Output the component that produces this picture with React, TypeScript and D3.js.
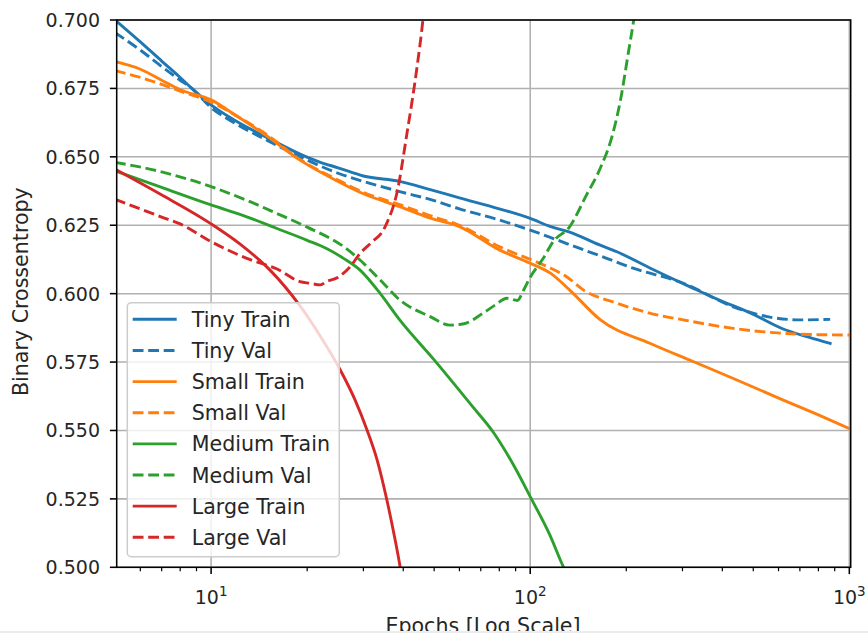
import React from "react";
import * as d3 from "d3";

const tinyTrainEpochs = [5, 6, 7, 8, 8.7, 10, 12, 15, 19, 22, 25, 30, 39, 48.6, 60, 80, 100, 116, 133, 165, 187, 238, 317, 385, 489, 623, 750, 871];
const tinyTrainLoss = [0.700, 0.692, 0.685, 0.679, 0.675, 0.669, 0.663, 0.657, 0.651, 0.648, 0.646, 0.643, 0.641, 0.638, 0.635, 0.631, 0.6275, 0.6245, 0.6225, 0.6178, 0.6153, 0.6093, 0.6025, 0.598, 0.593, 0.587, 0.584, 0.5818];

const tinyValEpochs = [5, 6, 7, 8, 8.7, 10, 12, 15, 19, 25, 30, 39, 50, 60, 80, 100, 116, 147, 166, 210, 302, 433, 553, 703, 871];
const tinyValLoss = [0.6954, 0.689, 0.683, 0.678, 0.675, 0.668, 0.662, 0.656, 0.650, 0.644, 0.641, 0.6373, 0.634, 0.631, 0.6269, 0.6232, 0.6205, 0.616, 0.6138, 0.6093, 0.6038, 0.5952, 0.5916, 0.5904, 0.5906];

const smallTrainEpochs = [5, 6, 7, 8, 10, 12, 15, 19, 25, 30, 39, 49, 60, 80, 100, 116, 133, 166, 238, 324, 433, 621, 800, 1010];
const smallTrainLoss = [0.6848, 0.682, 0.678, 0.6745, 0.6708, 0.665, 0.6575, 0.6488, 0.641, 0.6365, 0.6318, 0.6275, 0.6245, 0.616, 0.6111, 0.6074, 0.6013, 0.5904, 0.5818, 0.5752, 0.569, 0.5611, 0.5557, 0.5505];

const smallValEpochs = [5, 6, 7, 8, 10, 12, 15, 19, 25, 30, 39, 50, 60, 80, 107, 116, 130, 147, 187, 238, 302, 433, 621, 800, 1010];
const smallValLoss = [0.6815, 0.679, 0.6765, 0.674, 0.670, 0.665, 0.658, 0.649, 0.6415, 0.637, 0.6325, 0.628, 0.625, 0.6172, 0.6111, 0.6093, 0.6062, 0.6013, 0.5965, 0.5928, 0.5904, 0.5873, 0.5855, 0.585, 0.5849];

const mediumTrainEpochs = [5, 7, 10, 13, 16, 20, 23, 26, 29.3, 33.9, 39, 50, 66, 77, 90, 100, 115, 127, 131];
const mediumTrainLoss = [0.6449, 0.6388, 0.6324, 0.628, 0.6239, 0.6195, 0.6165, 0.6129, 0.6086, 0.600, 0.5904, 0.5758, 0.5587, 0.549, 0.536, 0.5258, 0.512, 0.5002, 0.497];

const mediumValEpochs = [5, 7, 10, 13, 16, 20, 26, 28.5, 34, 39, 48.6, 56, 62, 71, 78, 84.5, 91, 96, 100, 110, 118, 133, 150, 166, 180, 192, 203, 211, 218];
const mediumValLoss = [0.648, 0.6445, 0.6391, 0.634, 0.6294, 0.6243, 0.6172, 0.6135, 0.6048, 0.5977, 0.5916, 0.5885, 0.589, 0.5928, 0.596, 0.5983, 0.5975, 0.602, 0.606, 0.613, 0.619, 0.6245, 0.636, 0.646, 0.657, 0.671, 0.688, 0.700, 0.712];

const largeTrainEpochs = [5, 6.92, 10, 12.33, 15.3, 19, 21.97, 25.4, 28.27, 30.8, 33.14, 35.55, 37.2, 39.1, 40.3];
const largeTrainLoss = [0.6455, 0.6364, 0.6255, 0.6181, 0.6086, 0.5955, 0.5845, 0.5721, 0.5611, 0.5502, 0.5392, 0.5246, 0.5136, 0.5002, 0.49];

const largeValEpochs = [5, 7, 8, 10, 13, 16.1, 19, 20.4, 22, 23, 25, 27.3, 29.3, 32, 34.7, 35.5, 38.2, 41.1, 44.2, 46.1, 47];
const largeValLoss = [0.6345, 0.628, 0.6255, 0.619, 0.6128, 0.609, 0.6044, 0.6038, 0.6032, 0.6044, 0.606, 0.6099, 0.6147, 0.619, 0.6233, 0.6257, 0.6367, 0.6586, 0.6829, 0.700, 0.71];

const seriesLabels = ["Tiny Train", "Tiny Val", "Small Train", "Small Val", "Medium Train", "Medium Val", "Large Train", "Large Val"];
const yTickValues = [0.5, 0.525, 0.55, 0.575, 0.6, 0.625, 0.65, 0.675, 0.7];
const xMajorTicks = [10, 100, 1000];
const xTickExponents = ["1", "2", "3"];

const BLUE = "#1f77b4";
const ORANGE = "#ff7f0e";
const GREEN = "#2ca02c";
const RED = "#d62728";

const FONT = "DejaVu Sans, sans-serif";
const FS = 19;
const FS_LABEL = 20.6;

const L = 116.7, R = 850.7, T = 20, B = 567.3;

export default function App() {
  const x = d3.scaleLog().domain([5.06, 1010]).range([L, R]);
  const y = d3.scaleLinear().domain([0.5, 0.7]).range([B, T]);

  const series = [
    { e: tinyTrainEpochs, v: tinyTrainLoss, color: BLUE, dash: false },
    { e: tinyValEpochs, v: tinyValLoss, color: BLUE, dash: true },
    { e: smallTrainEpochs, v: smallTrainLoss, color: ORANGE, dash: false },
    { e: smallValEpochs, v: smallValLoss, color: ORANGE, dash: true },
    { e: mediumTrainEpochs, v: mediumTrainLoss, color: GREEN, dash: false },
    { e: mediumValEpochs, v: mediumValLoss, color: GREEN, dash: true },
    { e: largeTrainEpochs, v: largeTrainLoss, color: RED, dash: false },
    { e: largeValEpochs, v: largeValLoss, color: RED, dash: true },
  ];

  const line = d3
    .line<[number, number]>()
    .x((d) => x(d[0]))
    .y((d) => y(d[1]))
    .curve(d3.curveMonotoneX);

  const minorTicks: number[] = [];
  [1, 10, 100].forEach((base) => {
    for (let k = 2; k <= 9; k++) {
      const v = base * k;
      if (v >= 5.06 && v <= 1010) minorTicks.push(v);
    }
  });

  const LW = 2.9;
  const dashArr = "10.8,4.7";
  const legX = 127.3, legY = 302.7, legW = 212, legH = 254;
  const rowY0 = 319.3, rowStep = 31.14;

  return (
    <svg
      width={868}
      height={633}
      style={{ position: "absolute", left: 0, top: 0, background: "#fff" }}
      fontFamily={FONT}
    >
      <defs>
        <clipPath id="plotclip">
          <rect x={L} y={T} width={R - L} height={B - T} />
        </clipPath>
      </defs>
      <rect x={0} y={0} width={868} height={633} fill="#fff" />

      {yTickValues.map((t) => (
        <line key={"gy" + t} x1={L} x2={R} y1={y(t)} y2={y(t)} stroke="#b0b0b0" strokeWidth={1.55} />
      ))}
      {xMajorTicks.map((t) => (
        <line key={"gx" + t} x1={x(t)} x2={x(t)} y1={T} y2={B} stroke="#b0b0b0" strokeWidth={1.55} />
      ))}

      <g clipPath="url(#plotclip)">
        {series.map((s, i) => (
          <path
            key={i}
            d={line(s.e.map((e, j) => [e, s.v[j]] as [number, number])) || ""}
            fill="none"
            stroke={s.color}
            strokeWidth={LW}
            strokeDasharray={s.dash ? dashArr : undefined}
            strokeLinecap={s.dash ? "butt" : "square"}
            strokeLinejoin="round"
          />
        ))}
      </g>

      <rect x={L} y={T} width={R - L} height={B - T} fill="none" stroke="#000" strokeWidth={1.55} />

      {yTickValues.map((t) => (
        <g key={"yt" + t}>
          <line x1={L - 6.8} x2={L} y1={y(t)} y2={y(t)} stroke="#000" strokeWidth={1.55} />
          <text x={100} y={y(t) + 7} textAnchor="end" fontSize={FS} fill="#262626">
            {d3.format(".3f")(t)}
          </text>
        </g>
      ))}

      {xMajorTicks.map((t, i) => (
        <g key={"xt" + t}>
          <line x1={x(t)} x2={x(t)} y1={B} y2={B + 6.8} stroke="#000" strokeWidth={1.55} />
          <text x={x(t)} y={604} textAnchor="middle" fontSize={FS} fill="#262626">
            10
            <tspan dy={-8} fontSize={13.5}>
              {xTickExponents[i]}
            </tspan>
          </text>
        </g>
      ))}
      {minorTicks.map((t) => (
        <line key={"mt" + t} x1={x(t)} x2={x(t)} y1={B} y2={B + 3.9} stroke="#000" strokeWidth={1.2} />
      ))}

      <text x={483} y={633} textAnchor="middle" fontSize={FS_LABEL} fill="#262626">
        Epochs [Log Scale]
      </text>
      <text
        transform={`translate(28,${(T + B) / 2 - 2}) rotate(-90)`}
        textAnchor="middle"
        fontSize={FS_LABEL}
        fill="#262626"
      >
        Binary Crossentropy
      </text>

      <rect
        x={legX}
        y={legY}
        width={legW}
        height={legH}
        rx={4}
        ry={4}
        fill="#fff"
        fillOpacity={0.8}
        stroke="#cccccc"
        strokeWidth={1.5}
      />
      {series.map((s, i) => {
        const cy = rowY0 + i * rowStep;
        return (
          <g key={"leg" + i}>
            <line
              x1={132.7}
              x2={176.7}
              y1={cy}
              y2={cy}
              stroke={s.color}
              strokeWidth={LW}
              strokeDasharray={s.dash ? dashArr : undefined}
            />
            <text x={191.7} y={cy + 7.5} fontSize={FS_LABEL} fill="#262626">
              {seriesLabels[i]}
            </text>
          </g>
        );
      })}

      <rect x={0} y={631} width={868} height={2} fill="#ececec" />
    </svg>
  );
}
